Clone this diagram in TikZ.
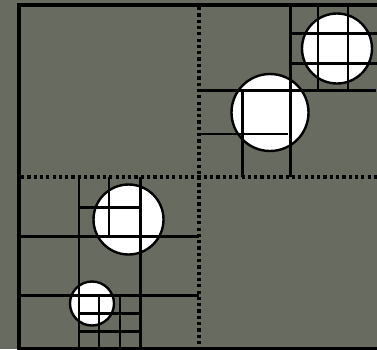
\documentclass[tikz,border=0pt]{standalone}
\definecolor{bgc}{RGB}{104,107,95}
\tikzset{
  solidline/.style={line width=2.8pt, black},
  frameline/.style={line width=3.2pt, black},
  dotline/.style={line width=3.3pt, black, dash pattern=on 3.2pt off 3.1pt},
  blob/.style={circle, draw=black, fill=white, line width=2.4pt, inner sep=0pt}
}
\begin{document}
\begin{tikzpicture}[x=1pt,y=-1pt]
\fill[bgc] (0,0) rectangle (377,349);
\useasboundingbox (0,0) rectangle (377,349);
% circles
\node[blob, minimum size=70pt] (c1) at (337,48.5) {};
\node[blob, minimum size=77pt] (c2) at (270,112.5) {};
\node[blob, minimum size=70pt] (c3) at (128.5,219.5) {};
\node[blob, minimum size=44pt] (c4) at (92,303.5) {};
% frame
\draw[frameline] (377,5) -- (19,5) -- (19,349) -- (377,349);
% dotted dividers
\draw[dotline] (199,7) -- (199,349);
\draw[dotline] (21,177) -- (377,177);
% top-right quadrant
\draw[solidline] (290.5,5) -- (290.5,177);
\draw[solidline] (199,90.5) -- (376,90.5);
\draw[solidline] (318,5) -- (318,90.5);
\draw[solidline] (348,5) -- (348,90.5);
\draw[solidline] (290.5,33.5) -- (377,33.5);
\draw[solidline] (290.5,63.5) -- (377,63.5);
\draw[solidline] (242.5,90.5) -- (242.5,177);
\draw[solidline] (199,134) -- (287.5,134);
% bottom-left quadrant
\draw[solidline] (19,236.5) -- (199,236.5);
\draw[solidline] (19,295.5) -- (199,295.5);
\draw[solidline] (79,177) -- (79,349);
\draw[solidline] (140.5,177) -- (140.5,349);
\draw[solidline] (109,177) -- (109,236.5);
\draw[solidline] (79,207.5) -- (140.5,207.5);
\draw[solidline] (99,295.5) -- (99,349);
\draw[solidline] (120,295.5) -- (120,349);
\draw[solidline] (79,313.5) -- (140.5,313.5);
\draw[solidline] (79,331.5) -- (140.5,331.5);
\end{tikzpicture}
\end{document}
